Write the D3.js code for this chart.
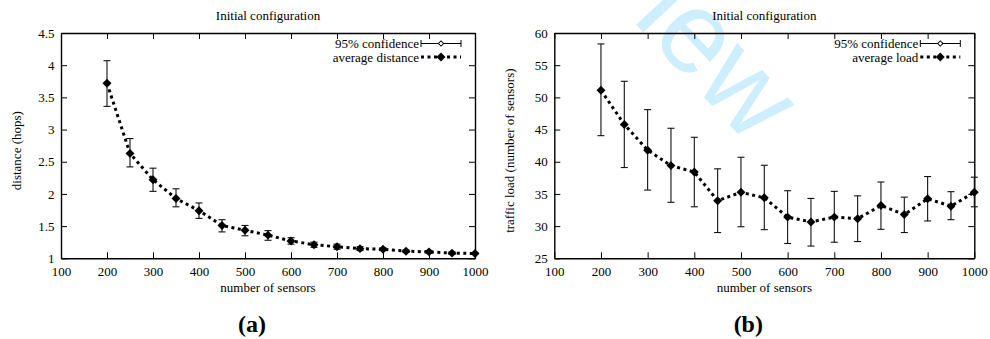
<!DOCTYPE html>
<html>
<head>
<meta charset="utf-8">
<script src="https://cdn.jsdelivr.net/npm/d3@7"></script>
<style>
  body { margin: 0; background: #fff; }
  svg text { font-family: 'Liberation Serif', 'Times New Roman', serif; }
  .axis text { font-size: 13px; fill: #000; }
  .axis line, .axis path { stroke: #000; }
</style>
</head>
<body>
<svg id="chart" width="990" height="339"></svg>
<script>
// number of sensors (x values, shared)
const sensors = [200, 250, 300, 350, 400, 450, 500, 550, 600, 650, 700, 750, 800, 850, 900, 950, 1000];
const xTicks = [100, 200, 300, 400, 500, 600, 700, 800, 900, 1000];

// (a) average distance in hops, with 95% confidence
const distAvg  = [3.72, 2.63, 2.22, 1.93, 1.74, 1.51, 1.435, 1.36, 1.27, 1.21, 1.18, 1.15, 1.14, 1.11, 1.10, 1.08, 1.075];
const distLow  = [3.36, 2.42, 2.04, 1.80, 1.62, 1.41, 1.35, 1.28, 1.22, 1.17, 1.14, 1.12, 1.12, 1.09, 1.08, 1.06, 1.065];
const distHigh = [4.07, 2.86, 2.40, 2.08, 1.86, 1.60, 1.51, 1.43, 1.32, 1.25, 1.22, 1.18, 1.16, 1.13, 1.12, 1.10, 1.085];
const distTicks = [1, 1.5, 2, 2.5, 3, 3.5, 4, 4.5];

// (b) average traffic load, with 95% confidence
const loadAvg  = [51.1, 45.8, 41.8, 39.4, 38.4, 33.95, 35.25, 34.4, 31.4, 30.65, 31.4, 31.15, 33.2, 31.8, 34.25, 33.1, 35.25];
const loadLow  = [44.05, 39.1, 35.6, 33.7, 33.0, 29.0, 29.9, 29.45, 27.3, 26.9, 27.5, 27.6, 29.5, 29.0, 30.8, 31.0, 33.0];
const loadHigh = [58.3, 52.5, 48.1, 45.2, 43.8, 38.9, 40.7, 39.45, 35.5, 34.3, 35.4, 34.7, 36.85, 34.5, 37.7, 35.35, 37.6];
const loadTicks = [25, 30, 35, 40, 45, 50, 55, 60];

const svg = d3.select('#chart');

// light blue watermark, drawn first so the plots sit on top
svg.append('text')
    .attr('transform', 'translate(631,19) rotate(47)')
    .style('font-family', "'Liberation Sans', Arial, sans-serif")
    .style('font-size', '116px')
    .style('fill', '#cdeefc')
    .text('iew');

class ErrorPlot {
    constructor(_config, _data) {
        this.config = {
            left: _config.left,
            right: _config.right,
            top: 33,
            bottom: 258.3,
            yDomain: _config.yDomain,
            yTicks: _config.yTicks,
            yLabel: _config.yLabel,
            lineLabel: _config.lineLabel,
            panel: _config.panel
        };
        this.data = _data;
        this.initVis();
    }

    initVis() {
        let vis = this;
        let c = vis.config;

        vis.xScale = d3.scaleLinear().domain([100, 1000]).range([c.left, c.right]);
        vis.yScale = d3.scaleLinear().domain(c.yDomain).range([c.bottom, c.top]);

        vis.g = svg.append('g');

        // axes, ticks pointing inward (mirrored on top / right)
        vis.g.append('g')
            .attr('class', 'axis')
            .attr('transform', `translate(0,${c.bottom})`)
            .call(d3.axisBottom(vis.xScale).tickValues(xTicks).tickFormat(d3.format('d'))
                .tickSizeInner(-6).tickSizeOuter(0).tickPadding(8.5));
        vis.g.append('g')
            .attr('class', 'axis')
            .attr('transform', `translate(0,${c.top})`)
            .call(d3.axisTop(vis.xScale).tickValues(xTicks).tickSizeInner(-6).tickSizeOuter(0).tickFormat(''));
        vis.g.append('g')
            .attr('class', 'axis')
            .attr('transform', `translate(${c.left},0)`)
            .call(d3.axisLeft(vis.yScale).tickValues(c.yTicks).tickFormat(d3.format('~g'))
                .tickSizeInner(-6).tickSizeOuter(0).tickPadding(6.5));
        vis.g.append('g')
            .attr('class', 'axis')
            .attr('transform', `translate(${c.right},0)`)
            .call(d3.axisRight(vis.yScale).tickValues(c.yTicks).tickSizeInner(-6).tickSizeOuter(0).tickFormat(''));

        vis.g.selectAll('.axis path').attr('stroke-width', 1.4);

        let midX = (c.left + c.right) / 2;

        // title & axis labels
        vis.g.append('text')
            .attr('x', midX).attr('y', 19.5)
            .attr('text-anchor', 'middle')
            .style('font-size', '13px')
            .text('Initial configuration');
        vis.g.append('text')
            .attr('x', midX).attr('y', 292)
            .attr('text-anchor', 'middle')
            .style('font-size', '13px')
            .text('number of sensors');
        vis.g.append('text')
            .attr('transform', `translate(${c.left - 40},${(c.top + c.bottom) / 2 + 5}) rotate(-90)`)
            .attr('text-anchor', 'middle')
            .style('font-size', '13px')
            .text(c.yLabel);
        vis.g.append('text')
            .attr('x', midX - 16).attr('y', 332)
            .attr('text-anchor', 'middle')
            .style('font-size', '24px')
            .style('font-weight', 'bold')
            .text(c.panel);

        // error bars
        let cap = 3.5;
        let bars = vis.g.append('g').attr('stroke', '#111').attr('stroke-width', 1.1);
        vis.data.forEach(d => {
            let x = vis.xScale(d.x);
            bars.append('line')
                .attr('x1', x).attr('x2', x)
                .attr('y1', vis.yScale(d.lo)).attr('y2', vis.yScale(d.hi));
            bars.append('line')
                .attr('x1', x - cap).attr('x2', x + cap)
                .attr('y1', vis.yScale(d.lo)).attr('y2', vis.yScale(d.lo));
            bars.append('line')
                .attr('x1', x - cap).attr('x2', x + cap)
                .attr('y1', vis.yScale(d.hi)).attr('y2', vis.yScale(d.hi));
        });

        // dashed average line
        let line = d3.line().x(d => vis.xScale(d.x)).y(d => vis.yScale(d.avg));
        vis.g.append('path')
            .datum(vis.data)
            .attr('d', line)
            .attr('fill', 'none')
            .attr('stroke', '#000')
            .attr('stroke-width', 3)
            .attr('stroke-dasharray', '3,3.5');

        // markers (filled diamonds)
        let marker = d3.symbol().type(d3.symbolSquare).size(40);
        vis.g.selectAll('.pt')
            .data(vis.data)
            .enter()
          .append('path')
            .attr('class', 'pt')
            .attr('d', marker)
            .attr('fill', '#000')
            .attr('transform', d => `translate(${vis.xScale(d.x)},${vis.yScale(d.avg)}) rotate(45)`);

        // legend
        let lx1 = c.right - 54, lx2 = c.right - 14, lm = (lx1 + lx2) / 2;
        let leg = vis.g.append('g');
        leg.append('text')
            .attr('x', lx1 - 2).attr('y', 47.5)
            .attr('text-anchor', 'end')
            .style('font-size', '13px')
            .text('95% confidence');
        leg.append('line').attr('x1', lx1).attr('x2', lx2).attr('y1', 43.5).attr('y2', 43.5)
            .attr('stroke', '#000').attr('stroke-width', 1);
        leg.append('line').attr('x1', lx1).attr('x2', lx1).attr('y1', 40).attr('y2', 47)
            .attr('stroke', '#000').attr('stroke-width', 1);
        leg.append('line').attr('x1', lx2).attr('x2', lx2).attr('y1', 40).attr('y2', 47)
            .attr('stroke', '#000').attr('stroke-width', 1);
        leg.append('path')
            .attr('d', d3.symbol().type(d3.symbolSquare).size(14)())
            .attr('transform', `translate(${lm},43.5) rotate(45)`)
            .attr('fill', '#fff').attr('stroke', '#000').attr('stroke-width', 1);

        leg.append('text')
            .attr('x', lx1 - 2).attr('y', 61.5)
            .attr('text-anchor', 'end')
            .style('font-size', '13px')
            .text(c.lineLabel);
        leg.append('line').attr('x1', lx1).attr('x2', lx2).attr('y1', 57).attr('y2', 57)
            .attr('stroke', '#000').attr('stroke-width', 3).attr('stroke-dasharray', '3,3.5');
        leg.append('path')
            .attr('d', marker)
            .attr('transform', `translate(${lm},57) rotate(45)`)
            .attr('fill', '#000');
    }
}

const distData = sensors.map((s, i) => ({ x: s, avg: distAvg[i], lo: distLow[i], hi: distHigh[i] }));
const loadData = sensors.map((s, i) => ({ x: s, avg: loadAvg[i], lo: loadLow[i], hi: loadHigh[i] }));

new ErrorPlot({
    left: 61, right: 475, yDomain: [1, 4.5], yTicks: distTicks,
    yLabel: 'distance (hops)', lineLabel: 'average distance', panel: '(a)'
}, distData);

new ErrorPlot({
    left: 554.3, right: 974.3, yDomain: [25, 60], yTicks: loadTicks,
    yLabel: 'traffic load (number of sensors)', lineLabel: 'average load', panel: '(b)'
}, loadData);
</script>
</body>
</html>
